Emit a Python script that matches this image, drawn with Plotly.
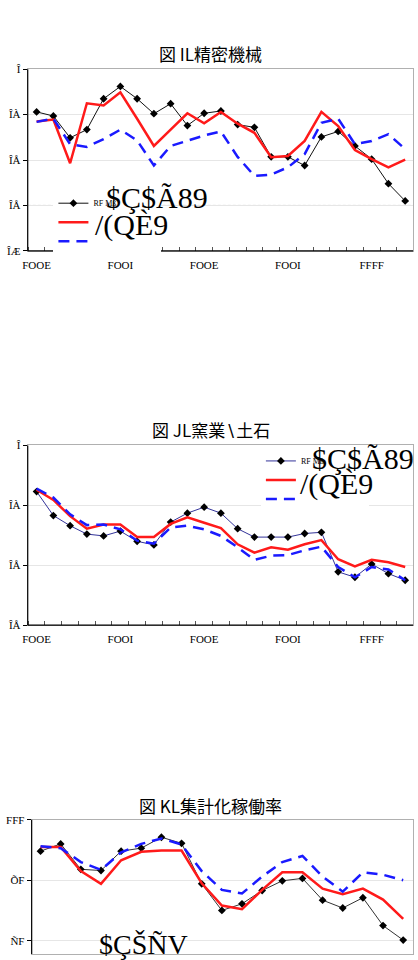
import plotly.graph_objects as go

W, H = 418, 960

# ---------------- data ----------------
periods_12 = list(range(23))          # chart 1 & 2 periods (index)
x_ticks_12 = [0, 5, 10, 15, 20]
x_labels_12 = ["FOOE", "FOOI", "FOOE", "FOOI", "FFFF"]

c1_black = [1.206, 1.197, 1.149, 1.167, 1.235, 1.262, 1.235, 1.202, 1.224, 1.176, 1.203, 1.208,
            1.178, 1.172, 1.107, 1.107, 1.088, 1.151, 1.163, 1.131, 1.102, 1.048, 1.010]
c1_red = [1.185, 1.189, 1.093, 1.225, 1.220, 1.249, 1.191, 1.131, 1.167, 1.203, 1.181, 1.206,
          1.180, 1.160, 1.106, 1.109, 1.142, 1.206, 1.175, 1.122, 1.102, 1.084, 1.101]
c1_blue = [1.184, 1.191, 1.135, 1.129, 1.146, 1.167, 1.143, 1.088, 1.131, 1.142, 1.154, 1.163,
           1.107, 1.065, 1.068, 1.084, 1.113, 1.182, 1.191, 1.135, 1.142, 1.157, 1.124]
c1_yticks = [0.9, 1.0, 1.1, 1.2, 1.3]
c1_ylabels = ["ÎÆ", "ÎÅ", "ÎÅ", "ÎÀ", "Î"]
c1_ref = 1.0

c2_black = [1.123, 1.083, 1.066, 1.052, 1.049, 1.057, 1.040, 1.034, 1.072, 1.087, 1.097, 1.087,
            1.061, 1.047, 1.047, 1.047, 1.053, 1.055, 0.989, 0.980, 1.002, 0.986, 0.975]
c2_red = [1.126, 1.109, 1.082, 1.061, 1.068, 1.068, 1.047, 1.047, 1.069, 1.080, 1.071, 1.062,
          1.035, 1.021, 1.030, 1.026, 1.035, 1.042, 1.010, 0.998, 1.009, 1.005, 0.997]
c2_blue = [1.128, 1.113, 1.085, 1.067, 1.068, 1.060, 1.041, 1.036, 1.063, 1.066, 1.060, 1.049,
           1.030, 1.009, 1.016, 1.017, 1.025, 1.031, 0.997, 0.980, 0.997, 0.993, 0.975]
c2_yticks = [0.9, 1.0, 1.1, 1.2]
c2_ylabels = ["ÎÅ", "ÎÅ", "ÎÀ", "Î"]

periods_3 = list(range(19))
c3_black = [94.8, 96.0, 91.8, 91.6, 94.8, 95.3, 97.1, 96.1, 89.4, 85.0, 86.1, 88.3, 89.9, 90.3,
            86.7, 85.4, 87.1, 82.5, 80.1]
c3_red = [95.5, 95.5, 91.5, 89.4, 93.3, 94.7, 94.9, 94.9, 89.5, 85.8, 85.2, 88.4, 91.3, 91.3,
          88.6, 87.7, 88.6, 86.8, 83.6]
c3_blue = [95.6, 95.3, 93.0, 91.7, 94.6, 96.0, 96.9, 95.9, 91.5, 88.4, 87.8, 90.6, 93.0, 94.0,
           90.6, 88.1, 91.3, 90.9, 90.0]
c3_yticks = [80, 90, 100]
c3_ylabels = ["ÑF", "ÕF", "FFF"]

titles = ["図 IL精密機械", "図 JL窯業∖土石", "図 KL集計化稼働率"]
NB = "\u00a0"
legend_names = ["RF Mß" + NB * 20, NB, NB]

RED = "#ff1a1a"
BLUE = "#1a1aff"
SERIF = "Liberation Serif"
CJK = "Noto Sans CJK JP"


def px_x(p):
    return p / W


def px_y(p):
    return 1 - p / H


fig = go.Figure()


def add_series(xs, black, red, blue, xa, ya, legend, black_line, show):
    fig.add_trace(go.Scatter(x=xs, y=black, mode="lines+markers", name=legend_names[0],
                             line=dict(color=black_line, width=1),
                             marker=dict(symbol="diamond", size=6, color="black"),
                             xaxis=xa, yaxis=ya, legend=legend, showlegend=show))
    fig.add_trace(go.Scatter(x=xs, y=red, mode="lines", name=legend_names[1],
                             line=dict(color=RED, width=2.5),
                             xaxis=xa, yaxis=ya, legend=legend, showlegend=show))
    fig.add_trace(go.Scatter(x=xs, y=blue, mode="lines", name=legend_names[2],
                             line=dict(color=BLUE, width=2.5, dash="11px,7px"),
                             xaxis=xa, yaxis=ya, legend=legend, showlegend=show))


add_series(periods_12, c1_black, c1_red, c1_blue, "x", "y", "legend", "#111111", True)
add_series(periods_12, c2_black, c2_red, c2_blue, "x2", "y2", "legend2", "#333399", True)
add_series(periods_3, c3_black, c3_red, c3_blue, "x3", "y3", "legend3", "#333333", False)

axis_common = dict(showgrid=False, zeroline=False, showline=True, linecolor="#b0b0b0",
                   mirror=True, linewidth=1,
                   tickfont=dict(family=SERIF, size=11, color="black"))

xa12 = dict(axis_common, range=[-0.53, 22.47], tickvals=x_ticks_12, ticktext=x_labels_12,
            ticks="", ticklabelstandoff=4,
            minor=dict(tick0=0.5, dtick=1, ticks="inside", ticklen=4, tickcolor="#555555",
                       showgrid=False))
ya_common = dict(axis_common, ticks="outside", ticklen=4, tickcolor="black",
                 showgrid=True, gridcolor="#e6e6e6", gridwidth=1)

fig.update_layout(
    width=W, height=H, margin=dict(l=0, r=0, t=0, b=0),
    paper_bgcolor="white", plot_bgcolor="white",
    xaxis=dict(xa12, domain=[px_x(23), px_x(413)], anchor="y"),
    yaxis=dict(ya_common, domain=[px_y(248), px_y(64)], range=[0.9, 1.3],
               tickvals=c1_yticks, ticktext=c1_ylabels, anchor="x"),
    xaxis2=dict(xa12, domain=[px_x(23), px_x(413)], anchor="y2"),
    yaxis2=dict(ya_common, domain=[px_y(627), px_y(445)], range=[0.9, 1.2],
                tickvals=c2_yticks, ticktext=c2_ylabels, anchor="x2"),
    xaxis3=dict(axis_common, domain=[px_x(27), px_x(413)], anchor="y3", range=[-0.44, 18.49],
                showticklabels=False, ticks=""),
    yaxis3=dict(ya_common, domain=[0, px_y(824)], range=[77.8, 100],
                tickvals=c3_yticks, ticktext=c3_ylabels, anchor="x3"),
    legend=dict(x=px_x(49), y=px_y(185), xanchor="left", yanchor="top", bgcolor="white",
                font=dict(family=SERIF, size=8, color="black"), tracegroupgap=0,
                itemwidth=30, borderwidth=0),
    legend2=dict(x=px_x(259), y=px_y(446), xanchor="left", yanchor="top", bgcolor="white",
                 font=dict(family=SERIF, size=8, color="black"), tracegroupgap=0,
                 itemwidth=30, borderwidth=0),
    showlegend=True,
)

# black left / bottom axis lines and reference line
for xa, ya in [("x", "y"), ("x2", "y2"), ("x3", "y3")]:
    fig.add_shape(type="line", xref=f"{xa} domain", yref=f"{ya} domain", x0=0, x1=0, y0=0, y1=1,
                  line=dict(color="black", width=1.2))
    if xa != "x3":
        fig.add_shape(type="line", xref=f"{xa} domain", yref=f"{ya} domain", x0=0, x1=1, y0=0, y1=0,
                      line=dict(color="black", width=1.2))

fig.add_shape(type="line", xref="x domain", yref="y", x0=0, x1=1, y0=c1_ref, y1=c1_ref,
              line=dict(color="black", width=1, dash="3px,2px"), layer="below")

# titles
for t, yc in zip(titles, [48, 429, 810]):
    fig.add_annotation(text=t, x=px_x(208), y=px_y(yc), xref="paper", yref="paper",
                       showarrow=False, xanchor="center", yanchor="middle",
                       font=dict(family=CJK, size=17, color="black"))

# garbled legend glyph text (as rendered in the reference)
glyphs = [
    ("$Ç$Ã89", 154, 194, 30), ("/(QÈ9", 128, 222, 30),
    ("$Ç$Ã89", 362, 458, 30), ("/(QÈ9", 336, 484, 30),
    ("$ÇŠÑV", 140, 950, 28),
]
for txt, gx, gy, fs in glyphs:
    fig.add_annotation(text=txt, x=px_x(gx), y=px_y(gy), xref="paper", yref="paper",
                       showarrow=False, xanchor="center", yanchor="middle",
                       font=dict(family=SERIF, size=fs, color="black"))

fig.write_html("out.html")
